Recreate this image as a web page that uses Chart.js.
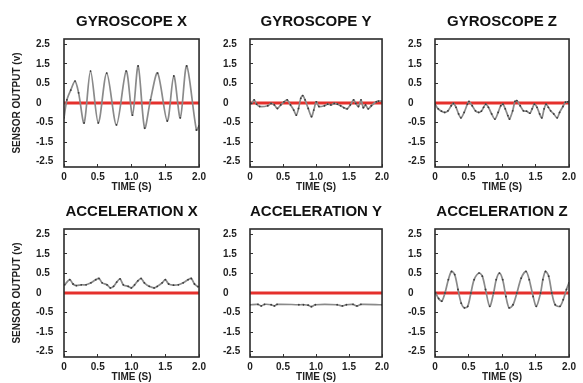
<!DOCTYPE html>
<html>
<head>
<meta charset="utf-8">
<script src="https://cdn.jsdelivr.net/npm/chart.js@4.4.1/dist/chart.umd.min.js"></script>
<style>
  html, body { margin: 0; padding: 0; background: #fff; }
  body { width: 583px; height: 383px; position: relative; overflow: hidden; }
  canvas { position: absolute; }
</style>
</head>
<body>
<script>
// ---------- data (values in the units printed on the axes) ----------
const panelTitles = ['GYROSCOPE X', 'GYROSCOPE Y', 'GYROSCOPE Z', 'ACCELERATION X', 'ACCELERATION Y', 'ACCELERATION Z'];
const xTickValues = [0, 0.5, 1.0, 1.5, 2.0];
const xTickLabels = ['0', '0.5', '1.0', '1.5', '2.0'];
const yTickValues = [-2.5, -1.5, -0.5, 0, 0.5, 1.5, 2.5];
const yTickLabels = ['-2.5', '-1.5', '-0.5', '0', '0.5', '1.5', '2.5'];
const xTitle = 'TIME (S)';
const yTitle = 'SENSOR OUTPUT (v)';

const zeroTime = [0, 2];
const zeroValue = [0, 0];

const gyroXTime  = [0.0, 0.043, 0.10, 0.163, 0.216, 0.298, 0.393, 0.508, 0.633, 0.777, 0.921, 1.014, 1.098, 1.194, 1.281, 1.386, 1.529, 1.626, 1.722, 1.817, 1.961, 2.0];
const gyroXValue = [-0.38, 0.08, 0.33, 0.62, 0.26, -0.52, 1.13, -0.52, 1.03, -0.62, 1.13, -0.31, 1.39, -0.78, 0.08, 1.03, -0.46, 0.88, -0.38, 1.39, -0.88, -0.67];

const gyroYTime  = [0.0, 0.025, 0.063, 0.10, 0.147, 0.269, 0.319, 0.368, 0.416, 0.466, 0.515, 0.563, 0.613, 0.662, 0.701, 0.735, 0.769, 0.799, 0.834, 0.882, 0.931, 0.966, 1.004, 1.044, 1.128, 1.176, 1.225, 1.275, 1.324, 1.372, 1.422, 1.471, 1.519, 1.569, 1.603, 1.643, 1.681, 1.716, 1.75, 1.79, 1.838, 1.912, 1.946, 2.0];
const gyroYValue = [-0.01, -0.01, 0.08, -0.03, -0.09, -0.07, -0.01, -0.05, -0.14, -0.05, 0.03, 0.08, -0.05, -0.18, -0.31, -0.14, 0.12, 0.19, 0.08, -0.14, -0.35, -0.18, 0.03, -0.09, -0.07, -0.03, -0.05, -0.01, -0.03, -0.07, -0.12, -0.15, -0.05, 0.08, -0.01, -0.09, 0.08, -0.12, -0.05, -0.15, -0.07, 0.03, 0.05, 0.05];

const gyroZTime  = [0.0, 0.048, 0.097, 0.145, 0.193, 0.242, 0.275, 0.314, 0.352, 0.387, 0.435, 0.483, 0.507, 0.555, 0.604, 0.652, 0.691, 0.725, 0.758, 0.797, 0.845, 0.894, 0.942, 0.981, 1.014, 1.048, 1.087, 1.112, 1.159, 1.193, 1.222, 1.271, 1.319, 1.367, 1.416, 1.449, 1.483, 1.522, 1.561, 1.594, 1.628, 1.657, 1.691, 1.725, 1.772, 1.822, 1.859, 1.909, 1.946, 1.981, 2.0];
const gyroZValue = [-0.03, -0.15, -0.21, -0.24, -0.20, -0.07, -0.01, -0.11, -0.28, -0.38, -0.24, -0.03, 0.04, -0.07, -0.20, -0.24, -0.21, -0.11, -0.03, -0.11, -0.28, -0.41, -0.24, -0.07, -0.03, -0.15, -0.32, -0.41, -0.20, 0.04, 0.06, -0.07, -0.20, -0.21, -0.26, -0.15, -0.03, -0.11, -0.28, -0.38, -0.15, -0.03, -0.11, -0.20, -0.28, -0.38, -0.24, -0.09, 0.02, 0.03, 0.04];

const accXTime  = [0.01, 0.086, 0.134, 0.183, 0.255, 0.327, 0.399, 0.47, 0.518, 0.565, 0.637, 0.686, 0.734, 0.781, 0.83, 0.878, 0.95, 0.997, 1.046, 1.094, 1.141, 1.19, 1.262, 1.334, 1.381, 1.453, 1.501, 1.55, 1.622, 1.694, 1.765, 1.837, 1.885, 1.932, 1.986];
const accXValue = [0.21, 0.34, 0.23, 0.19, 0.21, 0.21, 0.26, 0.34, 0.37, 0.26, 0.21, 0.13, 0.17, 0.28, 0.36, 0.21, 0.17, 0.13, 0.21, 0.31, 0.37, 0.26, 0.17, 0.13, 0.17, 0.26, 0.34, 0.23, 0.20, 0.21, 0.26, 0.34, 0.37, 0.23, 0.16];

const accYTime  = [0.0, 0.12, 0.17, 0.22, 0.32, 0.37, 0.41, 0.74, 0.81, 0.88, 0.93, 0.99, 1.32, 1.40, 1.46, 1.56, 1.62, 1.68, 2.0];
const accYValue = [-0.30, -0.29, -0.33, -0.29, -0.30, -0.33, -0.29, -0.30, -0.30, -0.31, -0.35, -0.30, -0.30, -0.33, -0.30, -0.29, -0.33, -0.29, -0.30];

const accZTime  = [0.01, 0.054, 0.101, 0.149, 0.199, 0.246, 0.294, 0.343, 0.391, 0.439, 0.488, 0.536, 0.584, 0.657, 0.706, 0.754, 0.816, 0.874, 0.913, 0.961, 1.01, 1.058, 1.106, 1.164, 1.222, 1.286, 1.358, 1.406, 1.464, 1.512, 1.575, 1.609, 1.648, 1.696, 1.743, 1.793, 1.865, 1.913, 1.961, 2.0];
const accZValue = [0.0, -0.14, -0.21, 0.0, 0.34, 0.60, 0.47, 0.09, -0.26, -0.38, -0.34, 0.0, 0.34, 0.52, 0.43, 0.09, -0.34, 0.0, 0.34, 0.52, 0.34, -0.09, -0.38, -0.30, 0.0, 0.38, 0.60, 0.34, -0.09, -0.34, 0.0, 0.34, 0.60, 0.43, 0.0, -0.30, -0.34, -0.17, 0.09, 0.26];

const seriesTimes  = [gyroXTime, gyroYTime, gyroZTime, accXTime, accYTime, accZTime];
const seriesValues = [gyroXValue, gyroYValue, gyroZValue, accXValue, accYValue, accZValue];

// The printed axis labels are evenly spaced although their values are not:
// 0 -> 0.5 takes the same room as 0.5 -> 1.5. Map printed values to axis units.
const toAxis = v => Math.abs(v) <= 0.5 ? 2 * v : Math.sign(v) * (Math.abs(v) + 0.5);

// ---------- layout ----------
const cols = [
  { left: 0,   width: 213, padL: 8,  yW: 28, showYTitle: true },
  { left: 200, width: 196, padL: 23, yW: 27, showYTitle: false },
  { left: 396, width: 187, padL: 12, yW: 27, showYTitle: false }
];
const rows = [{ top: 0, height: 193 }, { top: 190, height: 193 }];

const FONT = '"Liberation Sans", Arial, Helvetica, sans-serif';
const TEXT = '#1e1e1e';

const boxPlugin = {
  id: 'frameBox',
  afterDraw(chart) {
    const { ctx, chartArea: a } = chart;
    ctx.save();
    ctx.strokeStyle = '#2b2b2b';
    ctx.lineWidth = 1.6;
    ctx.strokeRect(a.left, a.top, a.right - a.left, a.bottom - a.top);
    ctx.restore();
  }
};

panelTitles.forEach((title, i) => {
  const col = cols[i % 3];
  const row = rows[Math.floor(i / 3)];
  const canvas = document.createElement('canvas');
  canvas.width = col.width;
  canvas.height = row.height;
  canvas.style.left = col.left + 'px';
  canvas.style.top = row.top + 'px';
  canvas.style.width = col.width + 'px';
  canvas.style.height = row.height + 'px';
  document.body.appendChild(canvas);

  const signal = seriesTimes[i].map((t, k) => ({ x: t, y: toAxis(seriesValues[i][k]) }));
  const zero = zeroTime.map((t, k) => ({ x: t, y: toAxis(zeroValue[k]) }));

  const scales = {
    x: {
      type: 'linear', min: 0, max: 2,
      afterBuildTicks: s => { s.ticks = xTickValues.map(v => ({ value: v })); },
      afterFit: s => { s.height = 26; },
      ticks: {
        autoSkip: false, maxRotation: 0, padding: 7, color: TEXT,
        font: { family: FONT, size: 10, weight: 'bold' },
        callback: (val, idx) => xTickLabels[idx]
      },
      grid: { display: true, drawOnChartArea: false, drawTicks: true, tickLength: -3, color: '#333', lineWidth: 1 },
      border: { display: false },
      title: { display: true, text: xTitle, color: TEXT, font: { family: FONT, size: 10, weight: 'bold' }, padding: { top: 0, bottom: 0 } }
    },
    y: {
      type: 'linear', min: -3.27, max: 3.27,
      afterBuildTicks: s => { s.ticks = yTickValues.map(v => ({ value: toAxis(v) })); },
      afterFit: s => { s.width = col.yW; },
      ticks: {
        autoSkip: false, crossAlign: 'far', padding: 4, color: TEXT,
        font: { family: FONT, size: 10, weight: 'bold' },
        callback: (val, idx) => yTickLabels[idx]
      },
      grid: { display: true, drawOnChartArea: false, drawTicks: true, tickLength: -3, color: '#333', lineWidth: 1 },
      border: { display: false }
    }
  };
  if (col.showYTitle) {
    scales.yTitle = {
      type: 'linear', position: 'left', weight: 10, display: true,
      afterFit: s => { s.width = 28; },
      ticks: { display: false },
      grid: { display: false, drawTicks: false },
      border: { display: false },
      title: { display: true, text: yTitle, color: TEXT, font: { family: FONT, size: 10, weight: 'bold' }, padding: { top: 3, bottom: 0 } }
    };
  }

  new Chart(canvas, {
    type: 'line',
    data: {
      datasets: [
        {
          label: 'zero', data: zero, order: 2,
          borderColor: '#e5302c', borderWidth: 3, pointRadius: 0, tension: 0
        },
        {
          label: title, data: signal, order: 1,
          borderColor: '#8a8a8a', borderWidth: 1.7, tension: 0.3,
          pointRadius: 0.9, pointBorderWidth: 0, pointBackgroundColor: '#3a3a3a'
        }
      ]
    },
    options: {
      responsive: false,
      animation: false,
      events: [],
      devicePixelRatio: 1,
      layout: { padding: { left: col.padL, right: 10, top: 0, bottom: 0 } },
      plugins: {
        legend: { display: false },
        tooltip: { enabled: false },
        title: {
          display: true, text: title, fullSize: false, color: '#111',
          font: { family: FONT, size: 15, weight: 'bold', lineHeight: 1.2 },
          padding: { top: 13, bottom: 8 }
        }
      },
      scales
    },
    plugins: [boxPlugin]
  });
});
</script>
</body>
</html>
